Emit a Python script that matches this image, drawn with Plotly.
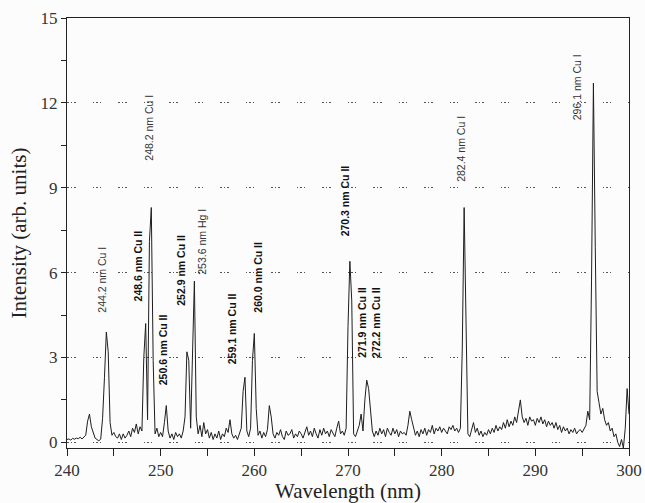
import numpy as np
import plotly.graph_objects as go

# Emission spectrum, sampled every 0.2 nm from 240.0 to 300.0 nm
wl_start = 240.0
wl_step = 0.2
intensity = [
    # 240.0 - 241.8
    0.10, 0.12, 0.08, 0.14, 0.11, 0.15, 0.13, 0.18, 0.12, 0.20,
    # 242.0 - 243.8
    0.25, 0.75, 1.00, 0.55, 0.30, 0.15, 0.10, 0.05, 0.12, 0.85,
    # 244.0 - 245.8
    2.30, 3.90, 3.20, 0.70, 0.25, 0.35, 0.20, 0.15, 0.30, 0.10,
    # 246.0 - 247.8
    0.30, 0.15, 0.25, 0.40, 0.20, 0.50, 0.35, 0.65, 0.30, 0.55,
    # 248.0 - 249.8
    0.40, 3.00, 4.20, 0.80, 7.10, 8.30, 2.90, 0.30, 0.50, 0.20,
    # 250.0 - 251.8
    0.35, 0.20, 0.70, 1.30, 0.40, 0.15, 0.30, 0.10, 0.35, 0.20,
    # 252.0 - 253.8
    0.30, 0.15, 0.40, 0.90, 3.20, 2.90, 0.50, 2.90, 5.70, 0.90,
    # 254.0 - 255.8
    0.30, 0.60, 0.20, 0.70, 0.30, 0.45, 0.15, 0.35, 0.10, 0.30,
    # 256.0 - 257.8
    0.15, 0.40, 0.10, 0.30, 0.20, 0.50, 0.35, 0.80, 0.30, 0.15,
    # 258.0 - 259.8
    0.25, 0.10, 0.30, 0.50, 1.80, 2.30, 0.40, 0.20, 0.50, 2.90,
    # 260.0 - 261.8
    3.85, 1.20, 0.25, 0.40, 0.15, 0.35, 0.20, 0.45, 1.30, 0.90,
    # 262.0 - 263.8
    0.30, 0.15, 0.35, 0.25, 0.45, 0.20, 0.10, 0.40, 0.25, 0.30,
    # 264.0 - 265.8
    0.45, 0.15, 0.30, 0.20, 0.40, 0.30, 0.15, 0.35, 0.55, 0.25,
    # 266.0 - 267.8
    0.40, 0.20, 0.50, 0.30, 0.15, 0.45, 0.25, 0.50, 0.30, 0.40,
    # 268.0 - 269.8
    0.20, 0.45, 0.30, 0.20, 0.50, 0.75, 0.30, 0.40, 0.25, 0.50,
    # 270.0 - 271.8
    4.10, 6.40, 5.00, 0.30, 0.20, 0.40, 0.60, 1.00, 0.40, 1.50,
    # 272.0 - 273.8
    2.20, 1.90, 1.00, 0.40, 0.20, 0.40, 0.25, 0.50, 0.30, 0.45,
    # 274.0 - 275.8
    0.20, 0.50, 0.35, 0.25, 0.50, 0.30, 0.45, 0.20, 0.40, 0.30,
    # 276.0 - 277.8
    0.35, 0.25, 0.60, 1.10, 0.80, 0.50, 0.25, 0.40, 0.20, 0.45,
    # 278.0 - 279.8
    0.30, 0.50, 0.25, 0.45, 0.35, 0.60, 0.30, 0.50, 0.40, 0.55,
    # 280.0 - 281.8
    0.35, 0.50, 0.40, 0.30, 0.55, 0.45, 0.60, 0.40, 0.50, 0.35,
    # 282.0 - 283.8
    0.50, 3.30, 8.30, 4.20, 0.30, 0.20, 0.45, 0.70, 0.35, 0.50,
    # 284.0 - 285.8
    0.25, 0.40, 0.20, 0.35, 0.25, 0.45, 0.30, 0.50, 0.35, 0.60,
    # 286.0 - 287.8
    0.40, 0.55, 0.45, 0.70, 0.50, 0.80, 0.55, 0.75, 0.60, 0.90,
    # 288.0 - 289.8
    0.70, 1.10, 1.50, 0.90, 0.70, 0.85, 0.60, 0.90, 0.75, 0.80,
    # 290.0 - 291.8
    0.60, 0.85, 0.70, 0.90, 0.65, 0.80, 0.55, 0.75, 0.60, 0.70,
    # 292.0 - 293.8
    0.50, 0.70, 0.45, 0.60, 0.35, 0.55, 0.40, 0.50, 0.30, 0.45,
    # 294.0 - 295.8
    0.35, 0.50, 0.30, 0.40, 0.45, 0.35, 0.50, 0.60, 1.10, 0.80,
    # 296.0 - 297.8
    5.70, 12.70, 6.90, 1.80, 1.40, 1.00, 1.20, 0.80, 0.60, 0.70,
    # 298.0 - 299.8
    0.40, 0.50, 0.20, 0.30, 0.00, -0.15, 0.10, -0.20, 0.50, 1.90,
    # 300.0
    1.00,
]
wavelength = np.round(wl_start + wl_step * np.arange(len(intensity)), 2)

# Line identifications: label text, label x (nm), label base (arb. units), bold
line_labels = [
    "244.2 nm Cu I", "248.6 nm Cu II", "248.2 nm Cu I", "250.6 nm Cu II",
    "252.9 nm Cu II", "253.6 nm Hg I", "259.1 nm Cu II", "260.0 nm Cu II",
    "270.3 nm Cu II", "271.9 nm Cu II", "272.2 nm Cu II", "282.4 nm Cu I",
    "296.1 nm Cu I",
]
label_x = [243.7, 247.6, 248.8, 250.2, 252.2, 254.4, 257.7, 260.3,
           269.7, 271.5, 273.0, 282.1, 294.4]
label_y = [4.5, 4.9, 9.9, 1.95, 4.75, 5.85, 2.7, 4.5,
           7.2, 2.9, 2.9, 9.15, 11.3]
label_bold = [False, True, False, True, True, False, True, True,
              True, True, True, False, False]

fig = go.Figure()
fig.add_trace(go.Scatter(
    x=wavelength, y=intensity, mode="lines",
    line=dict(color="#1e1e1e", width=1),
    showlegend=False, hoverinfo="skip",
))

for text, lx, ly, bold in zip(line_labels, label_x, label_y, label_bold):
    fig.add_annotation(
        x=lx, y=ly, xref="x", yref="y",
        text=f"<b>{text}</b>" if bold else text,
        textangle=-90, showarrow=False,
        xanchor="center", yanchor="bottom",
        font=dict(family="Liberation Sans, Arial, sans-serif", size=10.5,
                  color="#111111" if bold else "#333333"),
    )

grid_dash = "1.5px,2px,1.5px,2px,1.5px,17px"
fig.update_layout(
    width=645, height=503,
    margin=dict(l=67, r=16, t=18, b=55),
    paper_bgcolor="#fcfcfc", plot_bgcolor="#fcfcfc",
    font=dict(family="Liberation Serif, Times New Roman, serif", color="#2a2a2a"),
    xaxis=dict(
        range=[240, 300], tickvals=[240, 250, 260, 270, 280, 290, 300],
        ticks="outside", ticklen=7, tickwidth=1, tickcolor="#222",
        minor=dict(dtick=5, tick0=240, ticks="outside", ticklen=7,
                   tickcolor="#222", showgrid=False),
        showline=True, linecolor="#222", linewidth=1, mirror=True,
        showgrid=False, zeroline=False, automargin=False,
        tickfont=dict(size=17, color="#333"),
        title=dict(text="Wavelength (nm)", font=dict(size=21, color="#222"),
                   standoff=8),
    ),
    yaxis=dict(
        range=[-0.2, 15], tickvals=[0, 3, 6, 9, 12, 15],
        ticks="outside", ticklen=5, tickwidth=1, tickcolor="#222",
        minor=dict(dtick=1.5, tick0=0, ticks="outside", ticklen=5,
                   tickcolor="#222", showgrid=False),
        showline=True, linecolor="#222", linewidth=1, mirror=True,
        showgrid=True, gridcolor="#555", gridwidth=1, griddash=grid_dash,
        zeroline=False, automargin=False,
        tickfont=dict(size=17, color="#333"),
        title=dict(text="Intensity (arb. units)", font=dict(size=21, color="#222"),
                   standoff=8),
    ),
)

fig.write_html("out.html")
